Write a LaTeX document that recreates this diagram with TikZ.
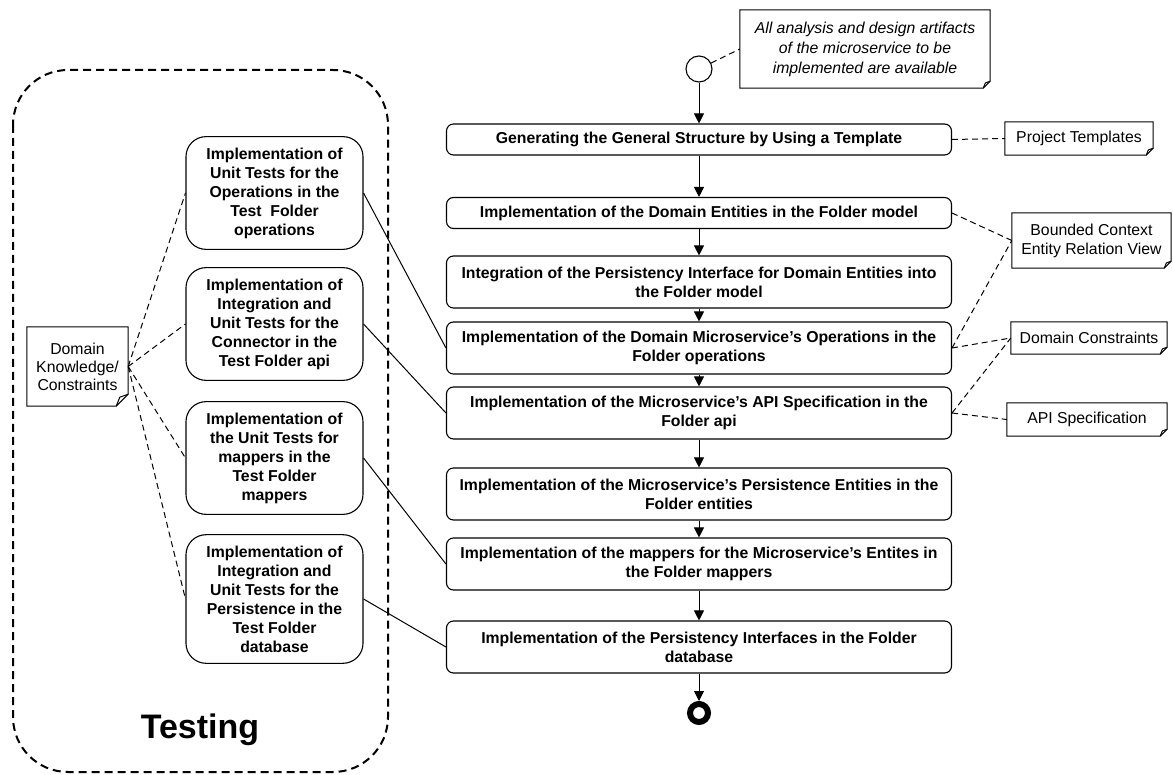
\documentclass[tikz,border=0pt]{standalone}
\usepackage{fontspec}
\setmainfont{Liberation Sans}
\usetikzlibrary{arrows.meta}

% note outline with the dog-ear at the lower right (#1 = size of the ear)
\newcommand{\noteframe}[2][7pt]{%
  \draw[line width=1pt] (#2.north west) -- (#2.north east) -- ([yshift=#1]#2.south east)
    -- ([xshift=-#1]#2.south east) -- (#2.south west) -- cycle;
  \draw[line width=1pt] ([xshift=-#1]#2.south east) -- ([xshift=-0.7*#1,yshift=0.75*#1]#2.south east)
    -- ([yshift=#1]#2.south east);}

\begin{document}
\begin{tikzpicture}[x=1pt, y=-1pt, >={Triangle[length=10pt,width=10pt]},
  activity/.style={draw, line width=1.1pt, rounded corners=7pt, minimum width=505pt,
    minimum height=31pt, inner sep=2pt, align=center,
    font=\bfseries\fontsize{15.8}{19}\selectfont},
  tall/.style={minimum height=52pt},
  testact/.style={draw, line width=1.1pt, rounded corners=20pt, minimum width=177pt,
    inner xsep=2pt, inner ysep=11pt, align=center,
    font=\bfseries\fontsize{15.8}{19}\selectfont},
  note/.style={inner sep=2pt, align=center, font=\fontsize{15.8}{19}\selectfont},
  noteline/.style={line width=1pt, dash pattern=on 6pt off 4pt},
  link/.style={line width=1pt}]
  \useasboundingbox (0,0) rectangle (1173,775);

  % testing group
  \draw[line width=2pt, dash pattern=on 8pt off 5pt, rounded corners=55pt]
    (13,70) rectangle (388,772);
  \node[font=\bfseries\fontsize{34}{40}\selectfont] (testing) at (200,730) {Testing};

  % main flow
  \node[draw, circle, line width=1.1pt, minimum size=26pt, inner sep=0pt] (start) at (699,69) {};
  \node[activity] (gen) at (699,139.5) {Generating the General Structure by Using a Template};
  \node[activity] (dom) at (699,213) {Implementation of the Domain Entities in the Folder model};
  \node[activity, tall] (pers) at (699,282) {Integration of the Persistency Interface for Domain Entities into\\the Folder model};
  \node[activity, tall] (ops) at (699,348) {Implementation of the Domain Microservice's Operations in the\\Folder operations};
  \node[activity, tall] (api) at (699,413) {Implementation of the Microservice's API Specification in the\\Folder api};
  \node[activity, tall] (ent) at (699,494) {Implementation of the Microservice's Persistence Entities in the\\Folder entities};
  \node[activity, tall] (map) at (699,564) {Implementation of the mappers for the Microservice's Entites in\\the Folder mappers};
  \node[activity, tall] (db) at (699,647) {Implementation of the Persistency Interfaces in the Folder\\database};
  \node[draw, circle, line width=6pt, minimum size=18pt, inner sep=0pt] (stop) at (699,713) {};

  \draw[->, link] (start) -- (gen);
  \foreach \a/\b in {gen/dom, dom/pers, pers/ops, ops/api, api/ent, ent/map, map/db, db/stop}
    \draw[->, link] (\a) -- (\b);

  % tests
  \node[testact] (t1) at (274.5,193) {Implementation of\\Unit Tests for the\\Operations in the\\Test\ \ Folder\\operations};
  \node[testact] (t2) at (274.5,324) {Implementation of\\Integration and\\Unit Tests for the\\Connector in the\\Test Folder api};
  \node[testact] (t3) at (274.5,458) {Implementation of\\the Unit Tests for\\mappers in the\\Test Folder\\mappers};
  \node[testact] (t4) at (274.5,599) {Implementation of\\Integration and\\Unit Tests for the\\Persistence in the\\Test Folder\\database};

  \draw[link] (t1.east) -- (ops.west);
  \draw[link] (t2.east) -- (api.west);
  \draw[link] (t3.east) -- (map.west);
  \draw[link] (t4.east) -- (db.west);

  % notes
  \node[note, font=\itshape\fontsize{15.8}{20}\selectfont, minimum width=250pt, minimum height=78pt]
    (goal) at (865,49) {All analysis and design artifacts\\of the microservice to be\\implemented are available};
  \node[note, minimum width=148pt, minimum height=33pt] (tmpl) at (1079,138.5) {Project Templates};
  \node[note, minimum width=159pt, minimum height=55pt] (bcv) at (1091.5,240.5) {Bounded Context\\Entity Relation View};
  \node[note, minimum width=156pt, minimum height=32pt] (dcons) at (1089,338) {Domain Constraints};
  \node[note, minimum width=160pt, minimum height=33pt] (apispec) at (1087,419.5) {API Specification};
  \node[note, font=\fontsize{15.8}{18}\selectfont, minimum width=101pt, minimum height=79pt]
    (know) at (77.5,366.5) {Domain\\Knowledge/\\Constraints};
  \foreach \n in {goal, tmpl, bcv, dcons, apispec}
    {\noteframe{\n}}
  \noteframe[12pt]{know}

  \draw[noteline] (start) -- (goal.west);
  \draw[noteline] (gen.east) -- (tmpl.west);
  \draw[noteline] (dom.east) -- (bcv.west);
  \draw[noteline] (ops.east) -- (bcv.west);
  \draw[noteline] (ops.east) -- (dcons.west);
  \draw[noteline] (api.east) -- (dcons.west);
  \draw[noteline] (api.east) -- (apispec.west);
  \foreach \t in {t1, t2, t3, t4}
    \draw[noteline] (know.east) -- (\t.west);
\end{tikzpicture}
\end{document}
